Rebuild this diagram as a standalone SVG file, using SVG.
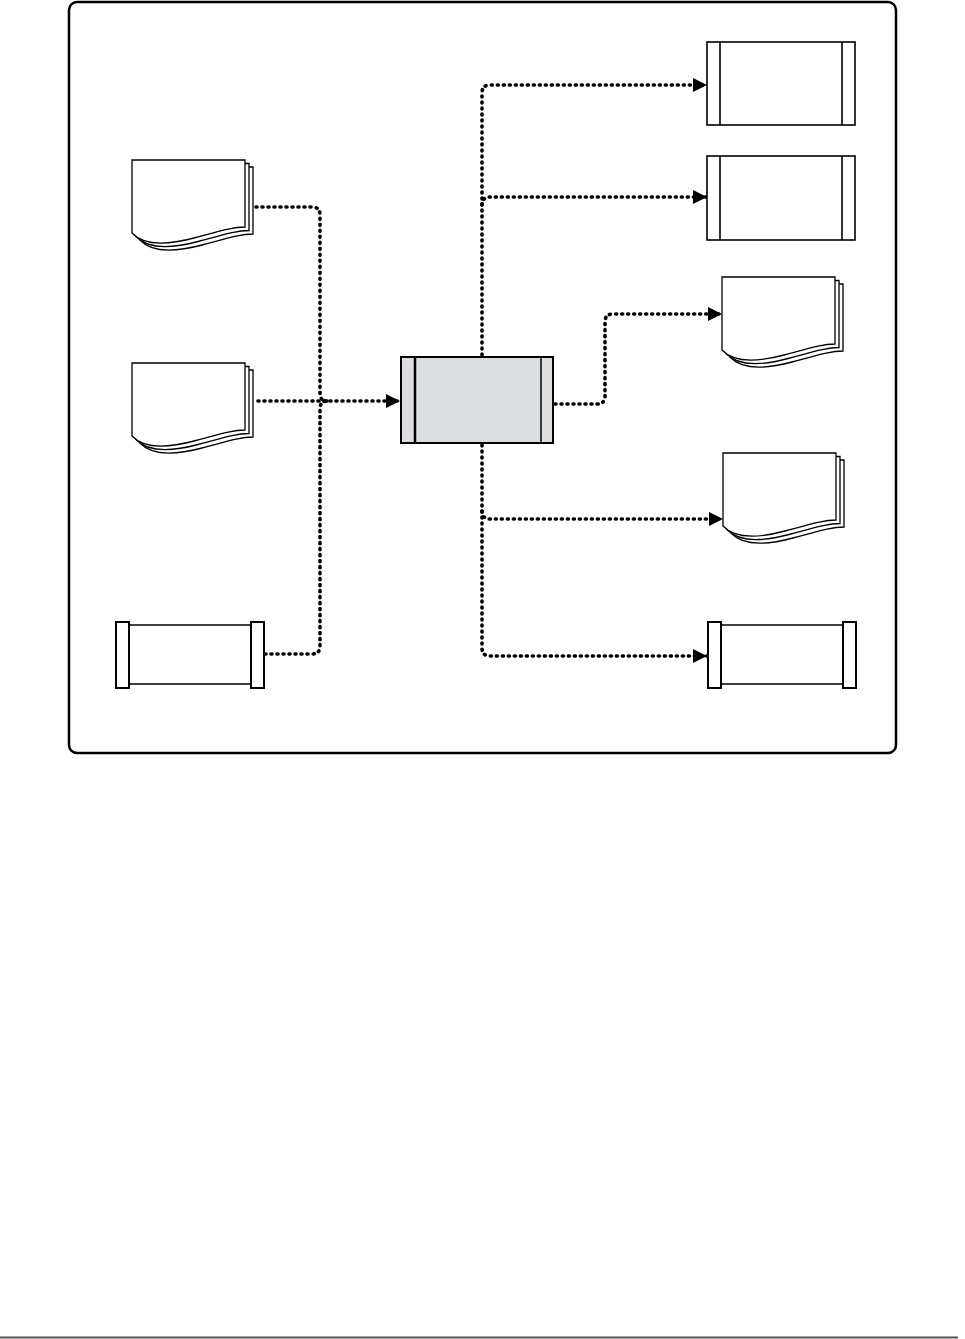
<svg xmlns="http://www.w3.org/2000/svg" xmlns:xlink="http://www.w3.org/1999/xlink" width="965" height="1339" viewBox="0 0 965 1339">
<style>
.frame{fill:none;stroke:#000;stroke-width:2.5}
.page{fill:#fff;stroke:#000;stroke-width:1.3}
.pp{fill:#fff;stroke:#000;stroke-width:1.6}
.bar{fill:#fff;stroke:#000;stroke-width:2}
.conn{fill:none;stroke:#000;stroke-width:3.6;stroke-linecap:round;stroke-dasharray:1 5}
</style>
<defs>
<marker id="arr" markerUnits="userSpaceOnUse" markerWidth="16" markerHeight="16" refX="14" refY="7" orient="auto">
<path d="M0,0 L14,7 L0,14 Z" fill="#000"/>
</marker>
<path id="page" d="M0,0 H113 V67 C100,67 88,71 62,78 C36,85 12,86 0,73 Z"/>
<g id="doc">
<use xlink:href="#page" class="page" transform="translate(8,7)"/>
<use xlink:href="#page" class="page" transform="translate(4,3.5)"/>
<use xlink:href="#page" class="page"/>
</g>
</defs>
<rect width="965" height="1339" fill="#fff"/>
<rect class="frame" x="69" y="2" width="827" height="751" rx="8"/>

<g id="connectors">
<path class="conn" d="M256,207 H312 Q320,207 320,215 V393 Q320,401 327,401"/>
<path class="conn" d="M258,401 H400" marker-end="url(#arr)"/>
<path class="conn" d="M265,654 H312 Q320,654 320,646 V409 Q320,401 327,401"/>
<path class="conn" d="M482,355 V93 Q482,85 490,85 H707" marker-end="url(#arr)"/>
<path class="conn" d="M482,205 Q482,197 490,197 H707" marker-end="url(#arr)"/>
<path class="conn" d="M555,404 H597 Q605,404 605,396 V322 Q605,314 613,314 H722" marker-end="url(#arr)"/>
<path class="conn" d="M482,511 Q482,519 490,519 H723" marker-end="url(#arr)"/>
<path class="conn" d="M482,445 V648 Q482,656 490,656 H707" marker-end="url(#arr)"/>
</g>

<g id="doc-l1"><use xlink:href="#doc" transform="translate(132,160)"/></g>
<g id="doc-l2"><use xlink:href="#doc" transform="translate(132,363)"/></g>

<g id="proc-l3">
<path class="pp" d="M129,625 H251 M129,684 H251"/>
<rect class="bar" x="116" y="622" width="13" height="66"/>
<rect class="bar" x="251" y="622" width="13" height="66"/>
</g>

<g id="central">
<rect x="401" y="357" width="152" height="86" fill="#dcdde0" stroke="#000" stroke-width="2"/>
<line x1="415" y1="357" x2="415" y2="443" stroke="#000" stroke-width="2.5"/>
<line x1="541" y1="357" x2="541" y2="443" stroke="#000" stroke-width="1.5"/>
</g>

<g id="proc-r1">
<rect class="pp" x="707" y="42" width="148" height="83"/>
<path class="pp" d="M720,42 V125 M842,42 V125"/>
</g>
<g id="proc-r2">
<rect class="pp" x="707" y="156" width="148" height="84"/>
<path class="pp" d="M720,156 V240 M842,156 V240"/>
</g>

<g id="doc-r1"><use xlink:href="#doc" transform="translate(722,277)"/></g>
<g id="doc-r2"><use xlink:href="#doc" transform="translate(723,453)"/></g>

<g id="proc-r3">
<path class="pp" d="M721,625 H843 M721,684 H843"/>
<rect class="bar" x="708" y="622" width="13" height="66"/>
<rect class="bar" x="843" y="622" width="13" height="66"/>
</g>

<line x1="0" y1="1337.5" x2="958" y2="1337.5" stroke="#555" stroke-width="2"/>
</svg>
